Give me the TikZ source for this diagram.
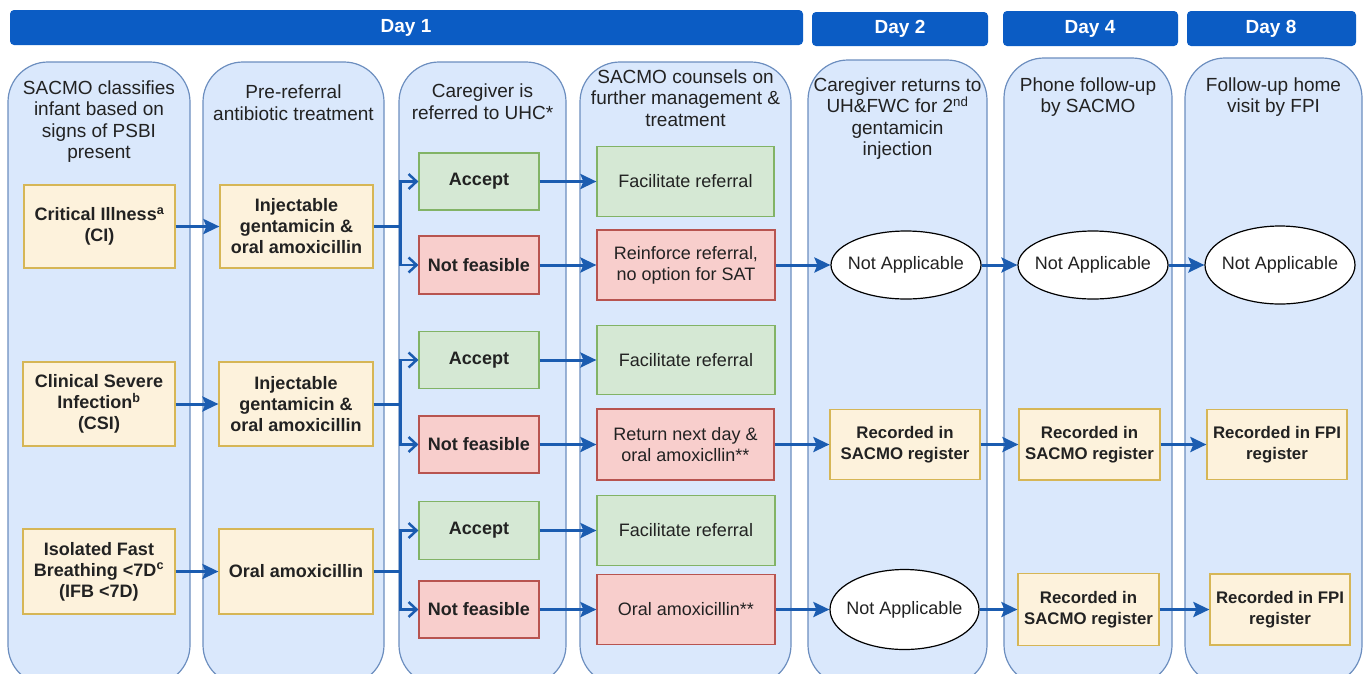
\documentclass[tikz,border=0pt]{standalone}
\usepackage{fontspec}
\setmainfont{Liberation Sans}
\usetikzlibrary{arrows.meta,shapes.geometric}
\definecolor{lanefill}{HTML}{DAE8FC}
\definecolor{lanedraw}{HTML}{6C8EBF}
\definecolor{dayblue}{HTML}{0B5CC4}
\definecolor{arrowblue}{HTML}{1B5CB0}
\definecolor{creamfill}{HTML}{FDF2DC}
\definecolor{creamdraw}{HTML}{D6B656}
\definecolor{okfill}{HTML}{D5E8D4}
\definecolor{okdraw}{HTML}{82B366}
\definecolor{nofill}{HTML}{F8CECC}
\definecolor{nodraw}{HTML}{B85450}
\definecolor{txt}{HTML}{222222}
\tikzset{
  lane/.style={draw=lanedraw, fill=lanefill, line width=1.2pt, rounded corners=40pt},
  daybar/.style={fill=dayblue, rounded corners=4pt},
  daytxt/.style={text=white, font=\bfseries\fontsize{19}{22}\selectfont},
  lanetitle/.style={align=center, text=txt, font=\fontsize{19}{21.5}\selectfont},
  basebox/.style={draw, line width=1.2pt, align=center, inner sep=0pt, text=txt, font=\fontsize{18}{21}\selectfont},
  creambox/.style={basebox, fill=creamfill, draw=creamdraw, font=\bfseries\fontsize{18}{21}\selectfont},
  recbox/.style={creambox, font=\bfseries\fontsize{16.8}{21}\selectfont},
  okbox/.style={basebox, fill=okfill, draw=okdraw},
  nobox/.style={basebox, fill=nofill, draw=nodraw},
  okbold/.style={okbox, font=\bfseries\fontsize{18}{21}\selectfont},
  nobold/.style={nobox, font=\bfseries\fontsize{18}{21}\selectfont},
  ell/.style={ellipse, draw=black, line width=1.2pt, fill=white, inner xsep=-8pt, inner ysep=0pt, text=txt, font=\fontsize{18}{21}\selectfont},
  arr/.style={draw=arrowblue, line width=3pt, -{Stealth[length=16pt,width=15pt,inset=3pt]}},
  ln/.style={draw=arrowblue, line width=3pt},
  brarr/.style={draw=arrowblue, line width=2.5pt, -{Straight Barb[length=8pt,width=15pt]}},
}
\begin{document}
\begin{tikzpicture}[x=1pt,y=-1pt]
\useasboundingbox (0,0) rectangle (1365,673);
\clip (0,0) rectangle (1365,673);
% day bars
\fill[daybar] (10,10) rectangle (803,45);
\node[daytxt] (d1) at (406,27.5) {Day 1};
\fill[daybar] (812,12) rectangle (988,46);
\node[daytxt] (d2) at (900,29) {Day 2};
\fill[daybar] (1003,11) rectangle (1178,46);
\node[daytxt] (d4) at (1090,28.5) {Day 4};
\fill[daybar] (1187,11) rectangle (1356,46);
\node[daytxt] (d8) at (1271,28.5) {Day 8};
% lanes
\draw[lane] (8,62) rectangle (190,685);
\draw[lane] (203,62) rectangle (384,685);
\draw[lane] (399,62) rectangle (566,685);
\draw[lane] (580,62) rectangle (791,685);
\draw[lane] (808,60) rectangle (987,685);
\draw[lane] (1004,58) rectangle (1172,685);
\draw[lane] (1185,58) rectangle (1362,685);
% lane titles
\node[lanetitle] (t1) at (99,121.5) {SACMO classifies\\infant based on\\signs of PSBI\\present};
\node[lanetitle] (t2) at (293.5,102.5) {Pre-referral\\antibiotic treatment};
\node[lanetitle] (t3) at (482.5,101.5) {Caregiver is\\referred to UHC*};
\node[lanetitle] (t4) at (685.5,98) {SACMO counsels on\\further management \&\\treatment};
\node[lanetitle] (t5) at (897.5,118.5) {Caregiver returns to\\UH\&FWC for 2\textsuperscript{nd}\\gentamicin\\injection};
\node[lanetitle] (t6) at (1088,97) {Phone follow-up\\by SACMO};
\node[lanetitle] (t7) at (1273.5,97) {Follow-up home\\visit by FPI};
% row 1
\node[creambox, minimum width=151, minimum height=83] (ci) at (99.5,226.5) {Critical Illness\textsuperscript{a}\\(CI)};
\node[creambox, minimum width=153, minimum height=83] (inj1) at (296.5,226.5) {Injectable\\gentamicin \&\\oral amoxicillin};
\node[okbold, minimum width=120, minimum height=57] (acc1) at (479,181.5) {Accept};
\node[nobold, minimum width=120, minimum height=58] (nf1) at (479,265) {Not feasible};
\node[okbox, minimum width=177, minimum height=70] (fr1) at (685.5,181.5) {Facilitate referral};
\node[nobox, minimum width=178, minimum height=70] (rr1) at (686,265) {Reinforce referral,\\no option for SAT};
\node[ell, minimum width=150, minimum height=68] (na21) at (906,265) {Not Applicable};
\node[ell, minimum width=150, minimum height=68] (na41) at (1093,265) {Not Applicable};
\node[ell, minimum width=150, minimum height=78] (na81) at (1280,265) {Not Applicable};
% row 2
\node[creambox, minimum width=152, minimum height=84] (csi) at (99,404) {Clinical Severe\\Infection\textsuperscript{b}\\(CSI)};
\node[creambox, minimum width=154, minimum height=84] (inj2) at (296,404) {Injectable\\gentamicin \&\\oral amoxicillin};
\node[okbold, minimum width=120, minimum height=57] (acc2) at (479,360) {Accept};
\node[nobold, minimum width=120, minimum height=57] (nf2) at (479,444.5) {Not feasible};
\node[okbox, minimum width=178, minimum height=69] (fr2) at (686,360) {Facilitate referral};
\node[nobox, minimum width=177, minimum height=71] (rn2) at (685.5,444.5) {Return next day \&\\oral amoxicllin**};
\node[recbox, minimum width=150, minimum height=70] (rec22) at (905,444.5) {Recorded in\\SACMO register};
\node[recbox, minimum width=141, minimum height=71] (rec42) at (1089.5,444.5) {Recorded in\\SACMO register};
\node[recbox, minimum width=140, minimum height=70] (rec82) at (1277,444.5) {Recorded in FPI\\register};
% row 3
\node[creambox, minimum width=152, minimum height=85] (ifb) at (99,571.5) {Isolated Fast\\Breathing <7D\textsuperscript{c}\\(IFB <7D)};
\node[creambox, minimum width=154, minimum height=85] (oa) at (296,571.5) {Oral amoxicillin};
\node[okbold, minimum width=120, minimum height=58] (acc3) at (479,530.5) {Accept};
\node[nobold, minimum width=120, minimum height=57] (nf3) at (479,609.5) {Not feasible};
\node[okbox, minimum width=178, minimum height=70] (fr3) at (686,530.5) {Facilitate referral};
\node[nobox, minimum width=178, minimum height=70] (oa3) at (686,609.5) {Oral amoxicillin**};
\node[ell, minimum width=149, minimum height=80] (na23) at (904.5,609.5) {Not Applicable};
\node[recbox, minimum width=141, minimum height=72] (rec43) at (1088.5,609.5) {Recorded in\\SACMO register};
\node[recbox, minimum width=140, minimum height=71] (rec83) at (1280,609.5) {Recorded in FPI\\register};
% connectors row 1
\draw[arr] (ci) -- (inj1);
\coordinate (j1) at ([xshift=27pt]inj1.east);
\draw[ln] (inj1.east) -- (j1);
\draw[brarr] (j1) |- (acc1.west);
\draw[brarr] (j1) |- (nf1.west);
\draw[arr] (acc1) -- (fr1);
\draw[arr] (nf1) -- (rr1);
\draw[arr] (rr1) -- (na21);
\draw[arr] (na21) -- (na41);
\draw[arr] (na41) -- (na81);
% connectors row 2
\draw[arr] (csi) -- (inj2);
\coordinate (j2) at ([xshift=27pt]inj2.east);
\draw[ln] (inj2.east) -- (j2);
\draw[brarr] (j2) |- (acc2.west);
\draw[brarr] (j2) |- (nf2.west);
\draw[arr] (acc2) -- (fr2);
\draw[arr] (nf2) -- (rn2);
\draw[arr] (rn2) -- (rec22);
\draw[arr] (rec22) -- (rec42);
\draw[arr] (rec42) -- (rec82);
% connectors row 3
\draw[arr] (ifb) -- (oa);
\coordinate (j3) at ([xshift=27pt]oa.east);
\draw[ln] (oa.east) -- (j3);
\draw[brarr] (j3) |- (acc3.west);
\draw[brarr] (j3) |- (nf3.west);
\draw[arr] (acc3) -- (fr3);
\draw[arr] (nf3) -- (oa3);
\draw[arr] (oa3) -- (na23);
\draw[arr] (na23) -- (rec43);
\draw[arr] (rec43) -- (rec83);
\end{tikzpicture}
\end{document}
